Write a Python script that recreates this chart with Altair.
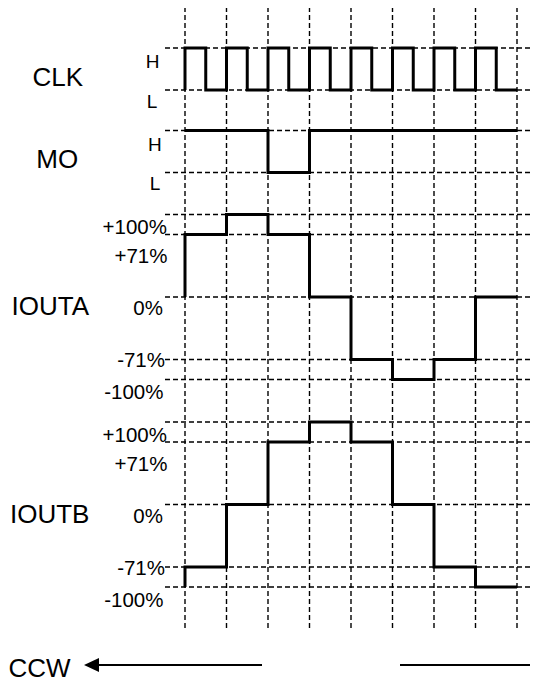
import altair as alt
import pandas as pd

# ---------------- data ----------------
ROW_NAMES = ["CLK", "MO", "IOUTA", "IOUTB"]
DIRECTION_LABEL = "CCW"

STEP_TIMES = [0, 1, 2, 3, 4, 5, 6, 7, 8]           # clock-step boundaries
CLK_HALF_TIMES = [0, 0.5, 1, 1.5, 2, 2.5, 3, 3.5, 4, 4.5, 5, 5.5, 6, 6.5, 7, 7.5]
CLK_START = "L"
CLK_LEVELS = ["H", "L", "H", "L", "H", "L", "H", "L",
              "H", "L", "H", "L", "H", "L", "H", "L"]
MO_START = "H"
MO_LEVELS = ["H", "H", "L", "H", "H", "H", "H", "H"]
IOUTA_START = 0
IOUTA_LEVELS = [71, 100, 71, 0, -71, -100, -71, 0]
IOUTB_START = -100
IOUTB_LEVELS = [-71, 0, 71, 100, 71, 0, -71, -100]

LOGIC_TICKS = ["H", "L"]
CURRENT_TICKS = [100, 71, 0, -71, -100]
CURRENT_TICK_LABELS = ["+100%", "+71%", "0%", "-71%", "-100%"]

# ---------------- layout (positions / styles, page pixels) ----------------
STEP_PX = 41.5
T0_PX = 185.0
PLOT_W = 522
PLOT_H = 676


def tx(px):
    return (px - T0_PX) / STEP_PX


X_DOMAIN = [tx(8), tx(8 + PLOT_W)]
Y_DOMAIN = [8, 8 + PLOT_H]
LOGIC_Y = {"CLK": {"H": 48, "L": 90}, "MO": {"H": 130.5, "L": 172.5}}
CURRENT_ZERO = {"IOUTA": 297, "IOUTB": 504.5}
CURRENT_DRAW = {100: 82.5, 71: 62.5, 0: 0}
B_SHIFT = CURRENT_ZERO["IOUTB"] - CURRENT_ZERO["IOUTA"]


def cur_y(row, lvl):
    s = 1 if lvl >= 0 else -1
    return CURRENT_ZERO[row] - s * CURRENT_DRAW[abs(lvl)]


FONT = "Liberation Sans"

# ---------------- build tables ----------------
def wave(name, times, start, levels, ymap, end_t):
    rows = [{"sig": name, "i": 0, "t": times[0], "y": ymap(start)}]
    for k, (t, lv) in enumerate(zip(times, levels)):
        rows.append({"sig": name, "i": k + 1, "t": t, "y": ymap(lv)})
    rows.append({"sig": name, "i": len(levels) + 1, "t": end_t, "y": ymap(levels[-1])})
    return rows


end_t = STEP_TIMES[-1]
wave_rows = []
wave_rows += wave("CLK", CLK_HALF_TIMES, CLK_START, CLK_LEVELS, lambda l: LOGIC_Y["CLK"][l], end_t)
wave_rows += wave("MO", STEP_TIMES[:-1], MO_START, MO_LEVELS, lambda l: LOGIC_Y["MO"][l], end_t)
wave_rows += wave("IOUTA", STEP_TIMES[:-1], IOUTA_START, IOUTA_LEVELS, lambda l: cur_y("IOUTA", l), end_t)
wave_rows += wave("IOUTB", STEP_TIMES[:-1], IOUTB_START, IOUTB_LEVELS, lambda l: cur_y("IOUTB", l), end_t)
waves = pd.DataFrame(wave_rows)

hgrid = []
for r in ["CLK", "MO"]:
    for l in LOGIC_TICKS:
        hgrid.append({"x0": tx(165), "x1": X_DOMAIN[1], "y": LOGIC_Y[r][l]})
for r in ["IOUTA", "IOUTB"]:
    for l in CURRENT_TICKS:
        hgrid.append({"x0": tx(165), "x1": X_DOMAIN[1], "y": cur_y(r, l)})
hgrid = pd.DataFrame(hgrid)

vgrid = pd.DataFrame({"t": STEP_TIMES, "y0": 7, "y1": 628})

# row-name labels (centre x, baseline y)
name_pos = {"CLK": (57.7, 86), "MO": (57.2, 168.3), "IOUTA": (50.3, 315), "IOUTB": (49.7, 522.5)}
names = pd.DataFrame([{"text": n, "x": tx(name_pos[n][0]), "y": name_pos[n][1]} for n in ROW_NAMES]
                     + [{"text": DIRECTION_LABEL, "x": tx(39.5), "y": 677}])

hl_pos = {("CLK", "H"): (152.7, 68.3), ("CLK", "L"): (152.0, 107.5),
          ("MO", "H"): (154.8, 151), ("MO", "L"): (155.0, 190)}
hl = pd.DataFrame([{"text": l, "x": tx(hl_pos[(r, l)][0]), "y": hl_pos[(r, l)][1]}
                   for r in ["CLK", "MO"] for l in LOGIC_TICKS])

pct_right = [167, 167.5, 163, 165, 163.5]
pct_base_a = [234.3, 263.3, 315, 367.3, 399.3]
pct = []
for shift in [0, B_SHIFT]:
    for lab, xr, yb in zip(CURRENT_TICK_LABELS, pct_right, pct_base_a):
        pct.append({"text": lab, "x": tx(xr), "y": yb + shift})
pct = pd.DataFrame(pct)

arrow_lines = pd.DataFrame([{"x0": tx(96), "x1": tx(262), "y": 665},
                            {"x0": tx(400), "x1": X_DOMAIN[1], "y": 665}])
arrow_head = pd.DataFrame([{"x": tx(91.5), "y": 665}])

# ---------------- chart ----------------
xs = alt.Scale(domain=X_DOMAIN, nice=False, zero=False)
ys = alt.Scale(domain=Y_DOMAIN, nice=False, zero=False, reverse=True)

vlines = alt.Chart(vgrid).mark_rule(color="black", strokeWidth=1.4, strokeDash=[5, 3]).encode(
    x=alt.X("t:Q", scale=xs, axis=None),
    y=alt.Y("y0:Q", scale=ys, axis=None),
    y2="y1:Q",
)
hlines = alt.Chart(hgrid).mark_rule(color="black", strokeWidth=1.4, strokeDash=[5, 3]).encode(
    x=alt.X("x0:Q", scale=xs, axis=None),
    x2="x1:Q",
    y=alt.Y("y:Q", scale=ys, axis=None),
)
lines = alt.Chart(waves).mark_line(color="black", strokeWidth=3, interpolate="step-after",
                                   strokeJoin="miter", strokeCap="butt").encode(
    x=alt.X("t:Q", scale=xs, axis=None),
    y=alt.Y("y:Q", scale=ys, axis=None),
    detail="sig:N",
    order="i:Q",
)
name_text = alt.Chart(names).mark_text(font=FONT, fontSize=26, align="center",
                                       baseline="alphabetic", color="black").encode(
    x=alt.X("x:Q", scale=xs, axis=None), y=alt.Y("y:Q", scale=ys, axis=None), text="text:N")
hl_text = alt.Chart(hl).mark_text(font=FONT, fontSize=19, align="center",
                                  baseline="alphabetic", color="black").encode(
    x=alt.X("x:Q", scale=xs, axis=None), y=alt.Y("y:Q", scale=ys, axis=None), text="text:N")
pct_text = alt.Chart(pct).mark_text(font=FONT, fontSize=20.5, align="right",
                                    baseline="alphabetic", color="black").encode(
    x=alt.X("x:Q", scale=xs, axis=None), y=alt.Y("y:Q", scale=ys, axis=None), text="text:N")
arrows = alt.Chart(arrow_lines).mark_rule(color="black", strokeWidth=2).encode(
    x=alt.X("x0:Q", scale=xs, axis=None), x2="x1:Q", y=alt.Y("y:Q", scale=ys, axis=None))
head = alt.Chart(arrow_head).mark_point(shape="M -1 0 L 1 -0.93 L 1 0.93 Z", filled=True,
                                        size=225, color="black", opacity=1, strokeWidth=0).encode(
    x=alt.X("x:Q", scale=xs, axis=None), y=alt.Y("y:Q", scale=ys, axis=None))

chart = alt.layer(vlines, hlines, lines, name_text, hl_text, pct_text, arrows, head).properties(
    width=PLOT_W, height=PLOT_H, padding=0, autosize="none", background="white"
).configure_view(stroke=None)

chart.save("out.html", embed_options={"renderer": "svg", "actions": False})
